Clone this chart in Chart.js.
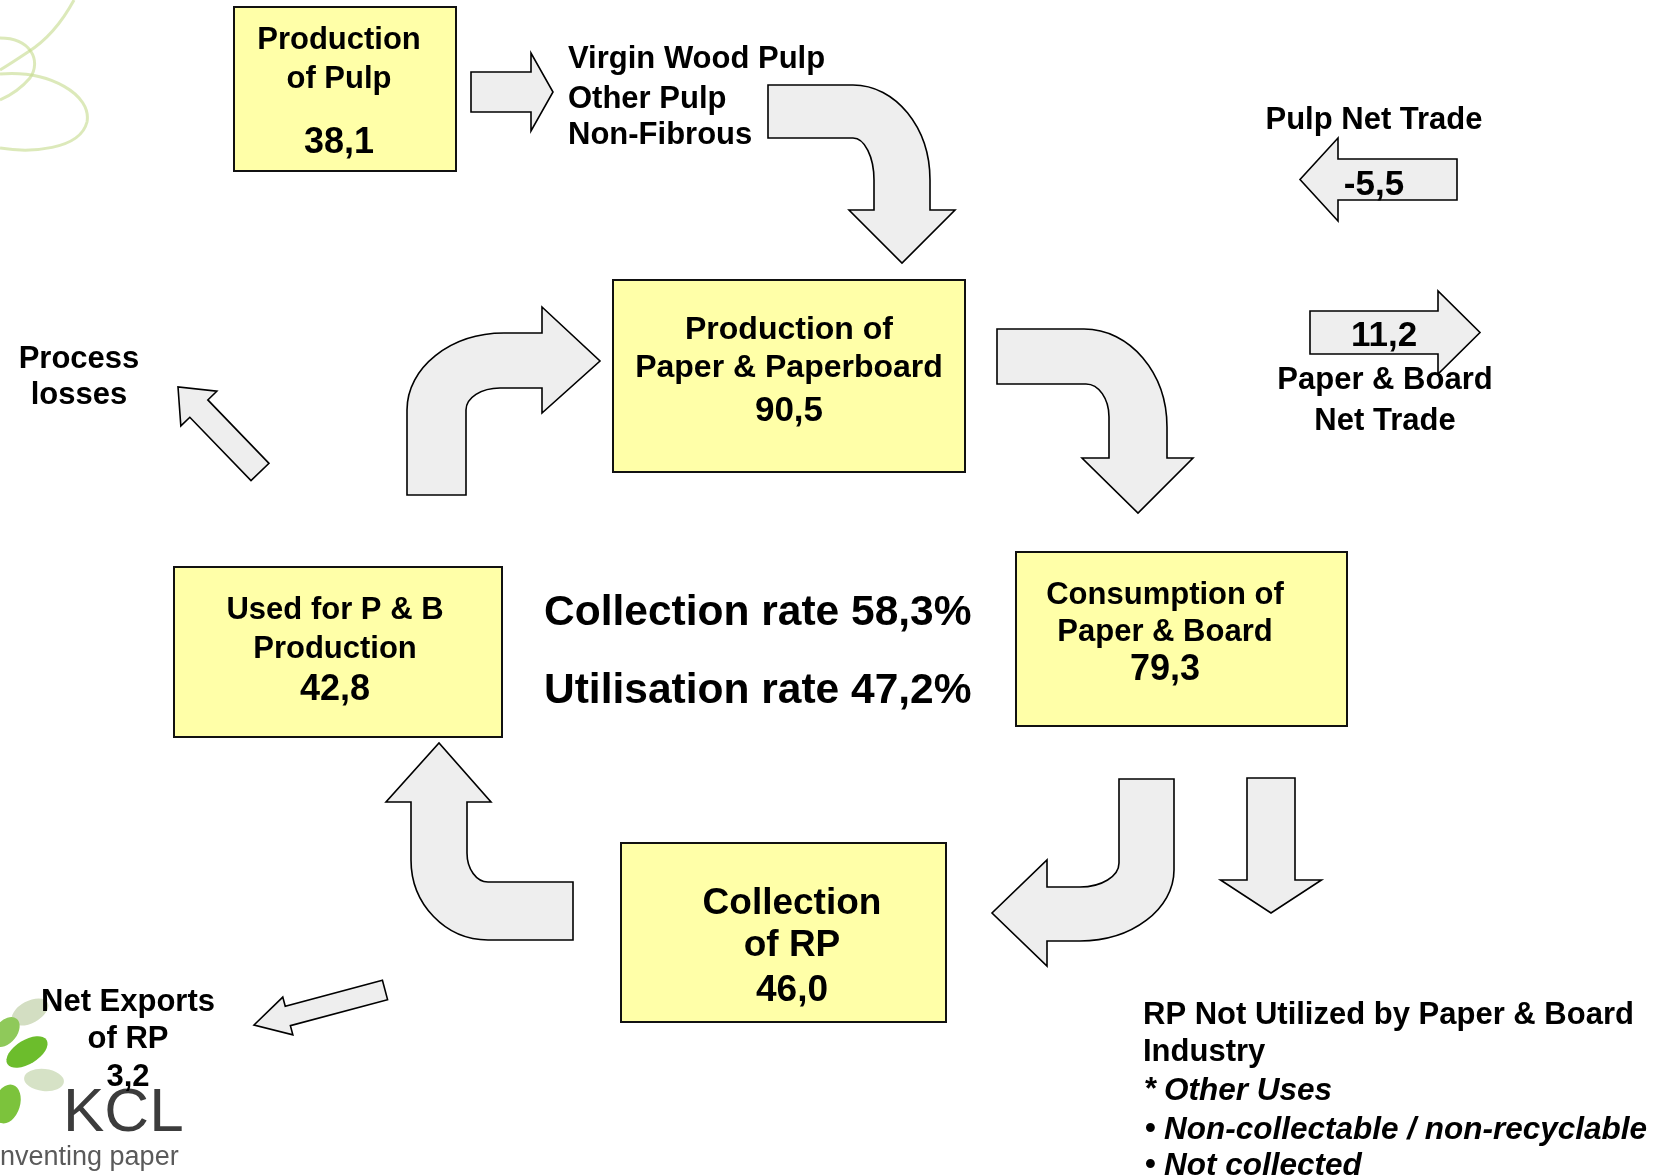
<!DOCTYPE html>
<html>
<head>
<meta charset="utf-8">
<script src="https://cdn.jsdelivr.net/npm/chart.js@4.4.0/dist/chart.umd.min.js"></script>
<style>
  html, body { margin: 0; padding: 0; background: #fff; }
</style>
</head>
<body>
<canvas id="flowChart" width="1662" height="1176"></canvas>
<script>
// values of the recovered paper flow (million tonnes)
const nodeLabels = [
  ["Production", "of Pulp"],
  ["Production of", "Paper & Paperboard"],
  ["Consumption of", "Paper & Board"],
  ["Collection", "of RP"],
  ["Used for P & B", "Production"],
];
const nodeValues = [38.1, 90.5, 79.3, 46.0, 42.8];

const tradeLabels = [["Pulp Net Trade"], ["Paper & Board", "Net Trade"], ["Net Exports", "of RP"]];
const tradeValues = [-5.5, 11.2, 3.2];

const rateLabels = ["Collection rate", "Utilisation rate"];
const rateValues = [58.3, 47.2];

const pulpInputs = ["Virgin Wood Pulp", "Other Pulp", "Non-Fibrous"];
const lossLabels = ["Process", "losses"];
const notUsedTitle = ["RP Not Utilized by Paper & Board", "Industry"];
const notUsedItems = [["*", "Other Uses"], ["\u2022", "Non-collectable / non-recyclable"], ["\u2022", "Not collected"]];

const fmt = (v) => v.toFixed(1).replace(".", ",");
const FONT = '"Liberation Sans", Arial, sans-serif';

// layout, in scale units (same as pixels here)
const boxes = [
  { x0: 234, y0: 7, x1: 456, y1: 171, cx: 339, lines: [38, 77, 140], sizes: [31, 31, 36] },
  { x0: 613, y0: 280, x1: 965, y1: 472, cx: 789, lines: [327, 365, 408], sizes: [32, 32, 35] },
  { x0: 1016, y0: 552, x1: 1347, y1: 726, cx: 1165, lines: [593, 630, 667], sizes: [31, 31, 36] },
  { x0: 621, y0: 843, x1: 946, y1: 1022, cx: 792, lines: [900, 942, 987], sizes: [37, 37, 37] },
  { x0: 174, y0: 567, x1: 502, y1: 737, cx: 335, lines: [608, 647, 687], sizes: [31, 31, 36] },
];

const straightArrows = [
  { tail: [471, 92], tip: [553, 92], shaft: 40, head: 78, headLen: 22 },
  { tail: [1457, 179.5], tip: [1300, 179.5], shaft: 41, head: 83, headLen: 38 },
  { tail: [1310, 332.5], tip: [1480, 332.5], shaft: 43, head: 83, headLen: 42 },
  { tail: [1271, 778], tip: [1271, 913], shaft: 48, head: 101, headLen: 33 },
  { tail: [260, 472], tip: [178, 387], shaft: 25, head: 50, headLen: 30 },
  { tail: [385, 990], tip: [254, 1025], shaft: 20, head: 39, headLen: 35 },
];

// H = quarter curve leaving horizontally, V = leaving vertically
const bentArrows = [
  [["M", 768, 85], ["L", 853, 85], ["H", 930, 180], ["L", 930, 210], ["L", 955, 210], ["L", 902, 263],
   ["L", 849, 210], ["L", 874, 210], ["L", 874, 180], ["V", 853, 138], ["L", 768, 138]],
  [["M", 997, 329], ["L", 1084, 329], ["H", 1167, 427], ["L", 1167, 458], ["L", 1193, 458], ["L", 1138, 513],
   ["L", 1082, 458], ["L", 1109, 458], ["L", 1109, 417], ["V", 1086, 384], ["L", 997, 384]],
  [["M", 407, 495], ["L", 407, 410], ["V", 504, 333], ["L", 542, 333], ["L", 542, 307], ["L", 600, 361],
   ["L", 542, 413], ["L", 542, 388], ["L", 500, 388], ["H", 466, 410], ["L", 466, 495]],
  [["M", 1119, 779], ["L", 1174, 779], ["L", 1174, 870], ["V", 1080, 941], ["L", 1047, 941], ["L", 1047, 966],
   ["L", 992, 913], ["L", 1047, 860], ["L", 1047, 887], ["L", 1080, 887], ["H", 1119, 863]],
  [["M", 573, 882], ["L", 573, 940], ["L", 488, 940], ["H", 411, 860], ["L", 411, 802], ["L", 386, 802],
   ["L", 439, 743], ["L", 491, 802], ["L", 467, 802], ["L", 467, 853], ["V", 488, 882]],
];

const K = 0.5523;

const flowPlugin = {
  id: "flowDiagram",
  afterDraw(chart) {
    const ctx = chart.ctx;
    const px = (v) => chart.scales.x.getPixelForValue(v);
    const py = (v) => chart.scales.y.getPixelForValue(v);

    // y is the visual middle of the line
    const text = (str, x, y, size, align, style) => {
      ctx.font = (style || "bold") + " " + size + "px " + FONT;
      ctx.textAlign = align || "center";
      ctx.textBaseline = "middle";
      ctx.fillStyle = "#000";
      ctx.fillText(str, px(x), py(y + size * 0.09));
    };

    ctx.save();

    // faint swirl, top left
    ctx.strokeStyle = "rgba(196,218,140,0.6)";
    ctx.lineWidth = 3;
    ctx.beginPath();
    ctx.moveTo(px(74), py(0));
    ctx.quadraticCurveTo(px(55), py(35), px(28), py(52));
    ctx.quadraticCurveTo(px(10), py(64), px(0), py(70));
    ctx.stroke();
    ctx.beginPath();
    ctx.moveTo(px(0), py(38));
    ctx.bezierCurveTo(px(30), py(38), px(42), py(60), px(30), py(78));
    ctx.quadraticCurveTo(px(18), py(92), px(0), py(100));
    ctx.stroke();
    ctx.beginPath();
    ctx.moveTo(px(0), py(74));
    ctx.bezierCurveTo(px(50), py(70), px(92), py(95), px(87), py(122));
    ctx.bezierCurveTo(px(80), py(150), px(30), py(153), px(0), py(148));
    ctx.stroke();

    // KCL logo leaves
    const leaf = (x, y, rx, ry, rot, col) => {
      ctx.fillStyle = col;
      ctx.beginPath();
      ctx.ellipse(px(x), py(y), rx, ry, rot, 0, Math.PI * 2);
      ctx.fill();
    };
    leaf(30, 1012, 20, 11, -0.5, "#d3dec2");
    leaf(6, 1032, 17, 11, -0.9, "#8fc95a");
    leaf(27, 1052, 23, 12, -0.55, "#6cbd2c");
    leaf(44, 1080, 20, 11, 0.1, "#d6e2c6");
    leaf(7, 1104, 13, 20, 0.3, "#7cc33c");
    ctx.fillStyle = "#3c3c3c";
    ctx.font = "62px " + FONT;
    ctx.textAlign = "left";
    ctx.textBaseline = "alphabetic";
    ctx.fillText("KCL", px(63), py(1131));
    ctx.fillStyle = "#5a5a5a";
    ctx.font = "27px " + FONT;
    ctx.fillText("nventing paper", px(0), py(1165));

    // arrows
    ctx.fillStyle = "#eeeeee";
    ctx.strokeStyle = "#000";
    ctx.lineWidth = 1.6;
    ctx.lineJoin = "miter";
    straightArrows.forEach((a) => {
      const dx = a.tip[0] - a.tail[0], dy = a.tip[1] - a.tail[1];
      const len = Math.hypot(dx, dy);
      const ux = dx / len, uy = dy / len, nx = -uy, ny = ux;
      const bx = a.tip[0] - ux * a.headLen, by = a.tip[1] - uy * a.headLen;
      const s = a.shaft / 2, h = a.head / 2;
      const pts = [
        [a.tail[0] + nx * s, a.tail[1] + ny * s],
        [bx + nx * s, by + ny * s],
        [bx + nx * h, by + ny * h],
        a.tip,
        [bx - nx * h, by - ny * h],
        [bx - nx * s, by - ny * s],
        [a.tail[0] - nx * s, a.tail[1] - ny * s],
      ];
      ctx.beginPath();
      pts.forEach((p, i) => (i ? ctx.lineTo(px(p[0]), py(p[1])) : ctx.moveTo(px(p[0]), py(p[1]))));
      ctx.closePath();
      ctx.fill();
      ctx.stroke();
    });
    bentArrows.forEach((cmds) => {
      let cx = 0, cy = 0;
      ctx.beginPath();
      cmds.forEach(([t, x, y]) => {
        const X = px(x), Y = py(y);
        if (t === "M") ctx.moveTo(X, Y);
        else if (t === "L") ctx.lineTo(X, Y);
        else if (t === "H") ctx.bezierCurveTo(cx + K * (X - cx), cy, X, Y - K * (Y - cy), X, Y);
        else if (t === "V") ctx.bezierCurveTo(cx, cy + K * (Y - cy), X - K * (X - cx), Y, X, Y);
        cx = X; cy = Y;
      });
      ctx.closePath();
      ctx.fill();
      ctx.stroke();
    });

    // boxes
    boxes.forEach((b, i) => {
      ctx.fillStyle = "#ffffa8";
      ctx.strokeStyle = "#111";
      ctx.lineWidth = 2;
      ctx.fillRect(px(b.x0), py(b.y0), px(b.x1) - px(b.x0), py(b.y1) - py(b.y0));
      ctx.strokeRect(px(b.x0), py(b.y0), px(b.x1) - px(b.x0), py(b.y1) - py(b.y0));
      const lines = nodeLabels[i].concat([fmt(nodeValues[i])]);
      lines.forEach((ln, j) => text(ln, b.cx, b.lines[j], b.sizes[j]));
    });

    // side labels
    pulpInputs.forEach((ln, j) => text(ln, 568, [57, 97, 133][j], 31, "left"));
    text(tradeLabels[0][0], 1374, 118, 31);
    text(fmt(tradeValues[0]), 1374, 182, 35);
    text(fmt(tradeValues[1]), 1384, 333, 35);
    tradeLabels[1].forEach((ln, j) => text(ln, 1385, [378, 419][j], 31));
    lossLabels.forEach((ln, j) => text(ln, 79, [357, 393][j], 31));
    tradeLabels[2].forEach((ln, j) => text(ln, 128, [1000, 1037][j], 31));
    text(fmt(tradeValues[2]), 128, 1075, 31);

    rateLabels.forEach((ln, j) => text(ln + " " + fmt(rateValues[j]) + "%", 544, [609, 687][j], 42.5, "left"));

    notUsedTitle.forEach((ln, j) => text(ln, 1143, [1013, 1050][j], 31, "left"));
    notUsedItems.forEach((it, j) => {
      const y = [1088, 1127, 1163][j];
      text(it[0], 1145, y, 31, "left", "bold");
      text(it[1], 1164, y, 31.5, "left", "italic bold");
    });

    ctx.restore();
  },
};

new Chart(document.getElementById("flowChart").getContext("2d"), {
  type: "scatter",
  data: {
    datasets: [
      {
        label: "Nodes",
        data: boxes.map((b, i) => ({ x: b.cx, y: (b.y0 + b.y1) / 2, v: nodeValues[i] })),
        pointRadius: 0,
      },
    ],
  },
  options: {
    responsive: false,
    animation: false,
    layout: { padding: 0 },
    plugins: { legend: { display: false }, tooltip: { enabled: false } },
    scales: {
      x: { type: "linear", min: 0, max: 1662, display: false },
      y: { type: "linear", min: 0, max: 1176, reverse: true, display: false },
    },
  },
  plugins: [flowPlugin],
});
</script>
</body>
</html>
